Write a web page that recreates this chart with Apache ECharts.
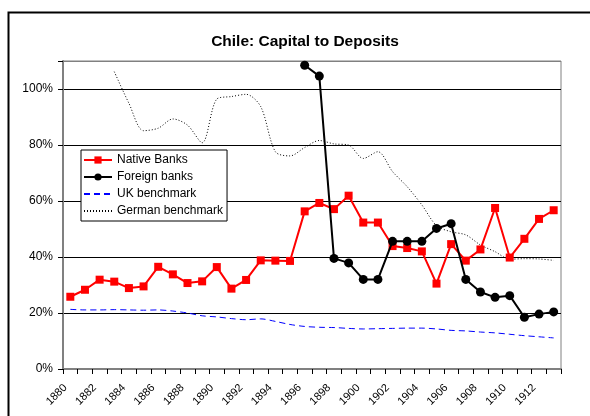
<!DOCTYPE html>
<html>
<head>
<meta charset="utf-8">
<script src="https://cdn.jsdelivr.net/npm/echarts@6/dist/echarts.min.js"></script>
<style>html,body{margin:0;padding:0;background:#fff}#c{width:590px;height:416px}</style>
</head>
<body>
<div id="c"></div>
<script>
var years = ['1880','1881','1882','1883','1884','1885','1886','1887','1888','1889',
  '1890','1891','1892','1893','1894','1895','1896','1897','1898','1899',
  '1900','1901','1902','1903','1904','1905','1906','1907','1908','1909',
  '1910','1911','1912','1913'];
var nativeBanks = [25.8,28.3,31.9,31.2,28.9,29.5,36.5,33.8,30.7,31.3,
  36.4,28.7,31.8,38.8,38.7,38.6,56.3,59.3,57.1,61.9,
  52.3,52.3,43.9,43.2,42.0,30.5,44.6,38.7,42.7,57.5,
  39.8,46.5,53.6,56.7];
var foreignBanks = [null,null,null,null,null,null,null,null,null,null,
  null,null,null,null,null,null,108.5,104.6,39.5,37.9,
  32.0,32.0,45.6,45.6,45.6,50.2,51.9,32.0,27.5,25.6,
  26.2,18.5,19.6,20.4];
var ukBenchmark = [21.3,21.1,21.1,21.2,21.1,21.0,21.1,20.7,20.0,19.0,
  18.6,18.0,17.6,17.9,17.0,15.9,15.2,14.9,14.8,14.5,
  14.3,14.4,14.5,14.6,14.6,14.3,13.8,13.6,13.2,12.9,
  12.4,11.9,11.5,11.1];
var germanBenchmark = [null,null,null,106.2,94.9,85.1,86.0,89.3,87.1,80.8,
  96.4,97.3,98.1,93.7,77.6,76.1,79.1,81.6,80.4,80.0,
  75.2,77.6,70.5,65.1,58.6,51.2,49.0,47.9,44.3,41.9,
  39.2,39.4,39.3,38.8];
var seriesNames = ['Native Banks', 'Foreign banks', 'UK benchmark', 'German benchmark'];

var FONT = "'Liberation Sans', Arial, sans-serif";
var chart = echarts.init(document.getElementById('c'), null, {renderer: 'canvas'});
chart.setOption({
  animation: false,
  backgroundColor: '#fff',
  title: {
    text: 'Chile: Capital to Deposits',
    left: 300, top: 29, textAlign: 'center',
    textStyle: {fontFamily: FONT, fontSize: 15.5, fontWeight: 'bold', color: '#000'}
  },
  graphic: [{
    type: 'rect', shape: {x: 8.5, y: 12.5, width: 620, height: 520},
    style: {fill: 'none', stroke: '#000', lineWidth: 2}, silent: true, z: 100
  }],
  grid: {left: 63, right: 29, top: 61, bottom: 47, show: true,
    borderColor: '#808080', borderWidth: 1, backgroundColor: '#fff'},
  legend: {
    orient: 'vertical', left: 81, top: 150,
    backgroundColor: '#fff', borderColor: '#000', borderWidth: 1,
    padding: [4, 4, 4, 2], itemGap: 5, itemWidth: 28, itemHeight: 9,
    textStyle: {fontFamily: FONT, fontSize: 12, color: '#000'},
    data: [
      {name: seriesNames[0]},
      {name: seriesNames[1]},
      {name: seriesNames[2], itemStyle: {opacity: 0}},
      {name: seriesNames[3], itemStyle: {opacity: 0}}
    ]
  },
  xAxis: {
    type: 'category', data: years, boundaryGap: true,
    axisLine: {lineStyle: {color: '#808080', width: 2}},
    axisTick: {show: true, interval: 0, alignWithLabel: false, length: 5, lineStyle: {color: '#000', width: 1}},
    axisLabel: {interval: 1, rotate: 45, fontFamily: FONT, fontSize: 11, color: '#000',
      margin: 12, padding: [0, 7, 0, 0]},
    splitLine: {show: false}
  },
  yAxis: {
    type: 'value', min: 0, max: 110, interval: 20,
    axisLine: {show: true, lineStyle: {color: '#808080', width: 2}},
    axisTick: {show: true, length: 5, lineStyle: {color: '#000'}},
    axisLabel: {fontFamily: FONT, fontSize: 12, color: '#000', margin: 10,
      formatter: function (v) { return v > 100 ? '' : v + '%'; }},
    splitLine: {show: true, lineStyle: {color: ['#000','#000','#000','#000','#000','#000','#808080'], width: 1}}
  },
  series: [
    {name: seriesNames[0], type: 'line', data: nativeBanks, symbol: 'rect', symbolSize: 8,
      itemStyle: {color: '#ff0000'}, lineStyle: {color: '#ff0000', width: 2}, z: 5},
    {name: seriesNames[1], type: 'line', data: foreignBanks, symbol: 'circle', symbolSize: 9,
      connectNulls: false,
      itemStyle: {color: '#000'}, lineStyle: {color: '#000', width: 2}, z: 6},
    {name: seriesNames[2], type: 'line', data: ukBenchmark, symbol: 'none', smooth: 0.3,
      itemStyle: {color: '#0000ff'}, lineStyle: {color: '#0000ff', width: 1, type: [6, 4]}, z: 3},
    {name: seriesNames[3], type: 'line', data: germanBenchmark, symbol: 'none', smooth: 0.3,
      itemStyle: {color: '#000'}, lineStyle: {color: '#000', width: 1, type: [1, 2]}, z: 3}
  ]
});
</script>
</body>
</html>
